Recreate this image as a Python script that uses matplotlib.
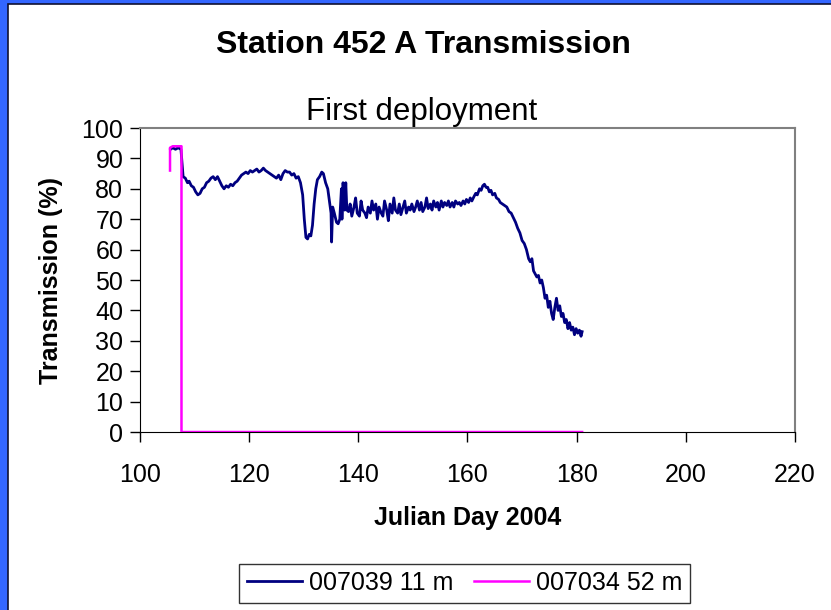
import matplotlib.pyplot as plt
from matplotlib.patches import Rectangle

plt.rcParams['font.family'] = ['Liberation Sans', 'DejaVu Sans']

# 007039 11 m (blue)
day_11m = [105.6, 106.0, 106.5, 107.0, 107.5, 107.9, 108.3, 108.7, 109.0, 109.4,
           109.8, 110.2, 110.6, 111.0, 111.4, 111.8, 112.2, 112.6, 113.0, 113.4,
           113.8, 114.2, 114.6, 115.0, 115.4, 115.8, 116.2, 116.6, 117.0, 117.4,
           117.8, 118.2, 118.6, 119.0, 119.4, 119.8, 120.2, 120.6, 121.0, 121.4,
           121.8, 122.2, 122.6, 123.0, 123.4, 123.8, 124.2, 124.6, 125.0, 125.4,
           125.8, 126.2, 126.6, 127.0, 127.4, 127.8, 128.2, 128.6, 129.0, 129.4,
           129.8, 130.1, 130.4, 130.7, 131.0, 131.3, 131.6, 131.9, 132.2, 132.5,
           132.9, 133.3, 133.6, 134.0, 134.4, 134.7, 135.0, 135.1, 135.3, 135.6,
           136.0, 136.3, 136.6, 136.9, 137.0, 137.2, 137.5, 137.7, 137.9, 138.2,
           138.5, 138.8, 139.2, 139.5, 139.8, 140.2, 140.5, 140.8, 141.2, 141.5,
           141.8, 142.2, 142.5, 142.8, 143.2, 143.5, 143.8, 144.2, 144.5, 144.8,
           145.2, 145.5, 145.8, 146.2, 146.5, 146.8, 147.2, 147.5, 147.8, 148.2,
           148.5, 148.8, 149.2, 149.5, 149.8, 150.2, 150.5, 150.8, 151.2, 151.5,
           151.8, 152.2, 152.5, 152.8, 153.2, 153.5, 153.8, 154.2, 154.5, 154.8,
           155.2, 155.5, 155.8, 156.2, 156.5, 156.8, 157.2, 157.5, 157.8, 158.2,
           158.5, 158.8, 159.2, 159.5, 159.8, 160.2, 160.5, 160.8, 161.2, 161.5,
           161.8, 162.2, 162.5, 162.8, 163.1, 163.4, 163.7, 164.0, 164.3, 164.6,
           165.0, 165.3, 165.7, 166.0, 166.4, 166.8, 167.2, 167.6, 168.0, 168.4,
           168.8, 169.2, 169.6, 170.0, 170.4, 170.8, 171.2, 171.5, 171.8, 172.1,
           172.4, 172.7, 173.0, 173.3, 173.6, 173.9, 174.2, 174.5, 174.8, 175.1,
           175.4, 175.7, 176.0, 176.3, 176.6, 176.9, 177.2, 177.5, 177.8, 178.1,
           178.4, 178.7, 179.0, 179.3, 179.6, 179.9, 180.2, 180.5, 180.8, 181.0]
trans_11m = [93.0, 93.5, 93.0, 93.5, 93.0, 84.0, 83.5, 82.0, 82.5, 81.0,
             80.5, 79.0, 78.0, 78.5, 80.0, 80.5, 82.0, 82.5, 83.5, 84.0,
             83.0, 84.0, 82.5, 81.0, 80.0, 81.0, 80.5, 81.5, 81.0, 82.0,
             82.5, 83.5, 84.5, 85.0, 85.5, 85.0, 86.0, 85.5, 86.0, 86.5,
             85.5, 86.0, 86.8, 86.0, 85.5, 85.0, 84.5, 84.0, 83.5, 84.5,
             83.0, 85.0, 86.0, 85.5, 85.5, 84.5, 85.0, 83.5, 84.0, 82.0,
             78.0, 70.0, 64.0, 63.5, 65.0, 64.5, 68.0, 75.0, 80.0, 83.0,
             84.0, 85.5, 85.0, 82.0, 80.0, 76.0, 72.0, 62.5, 74.0, 72.0,
             69.0, 68.5, 70.0, 80.0, 70.0, 82.0, 73.0, 82.0, 73.0, 72.5,
             75.0, 71.0, 74.0, 77.0, 72.0, 71.0, 76.0, 73.0, 72.0, 70.5,
             74.0, 72.0, 76.0, 73.0, 75.0, 70.0, 74.0, 72.0, 71.0, 76.0,
             73.0, 69.5, 75.0, 72.0, 77.0, 73.0, 72.0, 75.0, 71.5, 74.0,
             76.0, 72.0, 74.0, 73.0, 75.0, 72.5, 74.0, 76.0, 73.0, 75.5,
             72.5, 74.0, 77.0, 73.5, 75.0, 73.0, 76.0, 74.0, 75.5, 73.0,
             76.0, 74.0, 75.5, 74.5, 76.0, 74.0, 75.5, 74.0, 76.0, 75.0,
             75.5, 74.5, 76.0, 75.0, 76.5, 75.5, 77.0, 76.0, 77.5, 78.5,
             78.0, 80.0, 79.5, 81.0, 81.5, 80.5, 80.5, 79.0, 79.5, 78.0,
             78.5, 77.0, 76.5, 75.5, 75.0, 74.5, 74.0, 72.5, 72.0, 70.5,
             69.0, 67.0, 65.5, 63.0, 62.0, 60.0, 57.0, 56.0, 57.0, 53.0,
             52.0, 51.0, 51.5, 49.0, 50.0, 47.5, 44.0, 45.0, 41.0, 43.0,
             39.0, 37.0, 41.0, 44.0, 40.0, 41.5, 38.0, 39.0, 36.0, 37.0,
             34.0, 36.0, 33.5, 34.5, 32.0, 34.0, 32.5, 33.5, 31.5, 33.0]

# 007034 52 m (magenta)
day_52m = [105.5, 105.5, 106.0, 107.6, 107.6, 181.0]
trans_52m = [86.0, 93.5, 94.0, 94.0, 0.0, 0.0]

fig = plt.figure(figsize=(8.31, 6.10), dpi=100)
fig.patch.set_facecolor('#3366ff')
# white panel with dark outline (left and top only visible)
fig.patches.append(Rectangle((8 / 831, -0.1), 1.1, 1.1 - 4 / 610, transform=fig.transFigure,
                             facecolor='white', edgecolor='#101030', linewidth=1.2, zorder=-10))

ax = fig.add_axes([140 / 831, 1 - 432 / 610, 655 / 831, 304 / 610])
ax.plot(day_11m, trans_11m, color='#000080', linewidth=2, label='007039 11 m')
ax.plot(day_52m, trans_52m, color='#ff00ff', linewidth=1.8, label='007034 52 m')

ax.set_xlim(100, 220)
ax.set_ylim(0, 100)
ax.set_xticks(range(100, 221, 20))
ax.set_yticks(range(0, 101, 10))
ax.tick_params(direction='out', length=7, width=1, labelsize=18)
ax.tick_params(axis='y', pad=5)
ax.tick_params(axis='x', pad=15)
for s in ['top', 'right']:
    ax.spines[s].set_color('#808080')
    ax.spines[s].set_linewidth(1.5)

ax.set_xlabel('Julian Day 2004', fontsize=18, fontweight='bold')
ax.set_ylabel('Transmission (%)', fontsize=18, fontweight='bold')
ax.xaxis.set_label_coords(0.5, -0.245)
ax.yaxis.set_label_coords(-0.118, 0.5)

fig.text(0.509, 0.926, 'Station 452 A Transmission', ha='center', va='center',
         fontsize=23, fontweight='bold')
fig.text(0.507, 1 - 120 / 610, 'First deployment', ha='center', va='baseline',
         fontsize=22.5)

leg = fig.legend(loc='center', bbox_to_anchor=(0.559, 0.044), ncol=2, fontsize=18,
                 frameon=True, fancybox=False, edgecolor='black', handlelength=2.2,
                 handletextpad=0.3, columnspacing=0.8, borderpad=0.3)
leg.get_frame().set_linewidth(1)

fig.savefig('out.png', dpi=100, facecolor=fig.get_facecolor())
